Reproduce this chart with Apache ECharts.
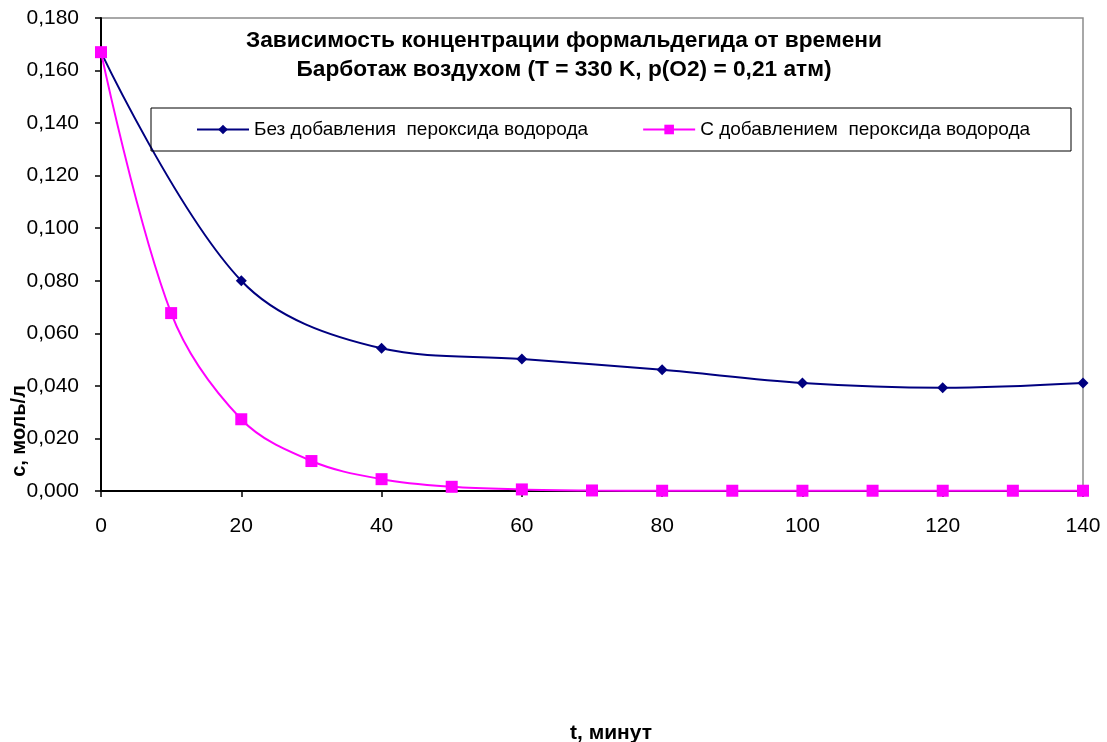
<!DOCTYPE html>
<html>
<head>
<meta charset="utf-8">
<script src="https://cdn.jsdelivr.net/npm/echarts@6/dist/echarts.min.js"></script>
<style>
  html, body { margin: 0; padding: 0; background: #fff; }
  #chart { width: 1107px; height: 742px; }
</style>
</head>
<body>
<div id="chart"></div>
<script>
// Time points, minutes
const timesNoH2O2 = [0, 20, 40, 60, 80, 100, 120, 140];
const timesH2O2 = [0, 10, 20, 30, 40, 50, 60, 70, 80, 90, 100, 110, 120, 130, 140];

// Formaldehyde concentration, mol/L
const concNoH2O2 = [0.167, 0.080, 0.0543, 0.0502, 0.0461, 0.0411, 0.0393, 0.0411];
const concH2O2 = [0.167, 0.0677, 0.0273, 0.0114, 0.0045, 0.0016, 0.0006, 0.0002, 0.0001, 0.0001, 0.0001, 0.0001, 0.0001, 0.0001, 0.0001];

const seriesNames = ['Без добавления  пероксида водорода', 'С добавлением  пероксида водорода'];
const titleLines = ['Зависимость концентрации формальдегида от времени', 'Барботаж воздухом (T = 330 K, p(O2) = 0,21 атм)'];
const xAxisTitle = 't, минут';
const yAxisTitle = 'с, моль/л';

const toPairs = (xs, ys) => xs.map((x, i) => [x, ys[i]]);

const chart = echarts.init(document.getElementById('chart'));
const font = 'Liberation Sans, Arial, sans-serif';

chart.setOption({
  animation: false,
  backgroundColor: '#fff',
  textStyle: { fontFamily: font },
  grid: {
    left: 101, top: 18, right: 24, bottom: 251,
    show: true, borderColor: '#8c8c8c', borderWidth: 1.5, backgroundColor: 'transparent'
  },
  title: {
    text: titleLines.join('\n'),
    left: 559, top: 21, textAlign: 'center',
    textStyle: { fontFamily: font, fontSize: 22.7, fontWeight: 'bold', color: '#000', lineHeight: 29 }
  },
  legend: {
    top: 120, left: 196, padding: 0,
    itemWidth: 52, itemHeight: 12, itemGap: 54,
    textStyle: { fontFamily: font, fontSize: 19, color: '#000' },
    data: seriesNames
  },
  graphic: [
    {
      type: 'rect', shape: { x: 151, y: 108, width: 920, height: 43 },
      style: { fill: 'transparent', stroke: '#000', lineWidth: 1 }, z: 5
    },
    {
      type: 'text', x: 19, y: 431, rotation: Math.PI / 2,
      style: { text: yAxisTitle, font: 'bold 20px ' + font, fill: '#000', align: 'center', verticalAlign: 'middle' }
    },
    {
      type: 'text', x: 611, y: 733,
      style: { text: xAxisTitle, font: 'bold 21px ' + font, fill: '#000', align: 'center', verticalAlign: 'middle' }
    }
  ],
  xAxis: {
    type: 'value', min: 0, max: 140, interval: 20,
    axisLine: { onZero: false, lineStyle: { color: '#000', width: 2 } },
    axisTick: { show: true, length: 6, lineStyle: { color: '#000', width: 1.5 } },
    axisLabel: { fontFamily: font, fontSize: 21, color: '#000', margin: 25 },
    splitLine: { show: false }
  },
  yAxis: {
    type: 'value', min: 0, max: 0.18, interval: 0.02,
    axisLine: { show: true, lineStyle: { color: '#000', width: 2 } },
    axisTick: { show: true, length: 6, lineStyle: { color: '#000', width: 1.5 } },
    axisLabel: {
      fontFamily: font, fontSize: 21, color: '#000', margin: 22,
      formatter: v => v.toFixed(3).replace('.', ',')
    },
    splitLine: { show: false }
  },
  series: [
    {
      name: seriesNames[0], type: 'line', smooth: 0.35,
      data: toPairs(timesNoH2O2, concNoH2O2),
      symbol: 'diamond', symbolSize: 11,
      itemStyle: { color: '#000080' },
      lineStyle: { color: '#000080', width: 2 },
      z: 3
    },
    {
      name: seriesNames[1], type: 'line', smooth: 0.35,
      data: toPairs(timesH2O2, concH2O2),
      symbol: 'rect', symbolSize: 12,
      itemStyle: { color: '#ff00ff' },
      lineStyle: { color: '#ff00ff', width: 2 },
      z: 4
    }
  ]
});
</script>
</body>
</html>
